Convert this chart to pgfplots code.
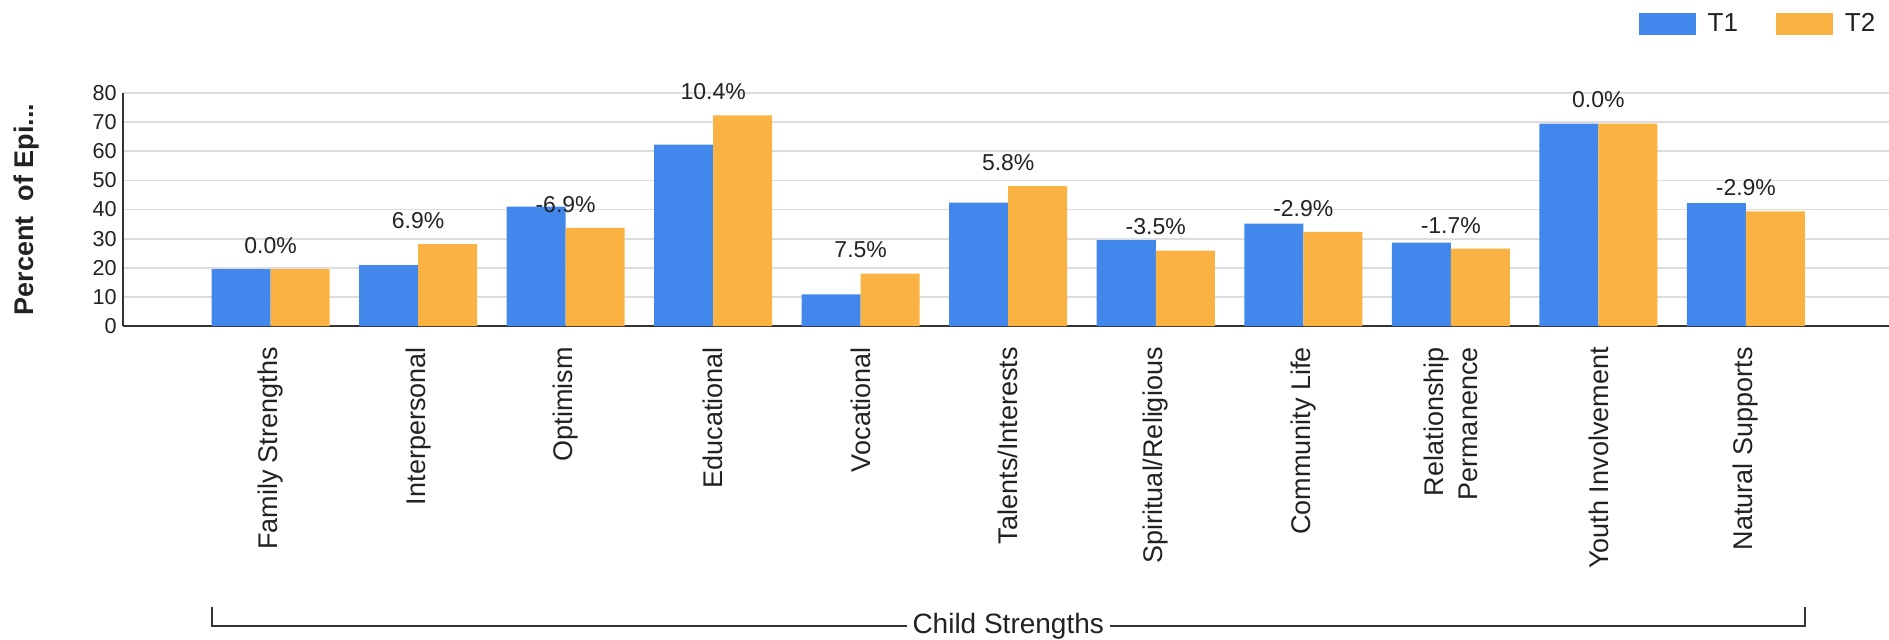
\documentclass[border=0pt]{standalone}
\usepackage{fontspec}
\setmainfont{Liberation Sans}
\usepackage{pgfplots}
\pgfplotsset{compat=1.18}
\usepackage{pgfplotstable}

\definecolor{tone}{RGB}{66,136,236}
\definecolor{ttwo}{RGB}{250,178,66}
\definecolor{ink}{RGB}{34,34,34}
\definecolor{gridc}{RGB}{221,221,221}
\definecolor{axisc}{RGB}{51,51,51}

% Percent of episodes with each strength, at T1 and T2; diff is the change label
\pgfplotstableread{
x  t1    t2    diff
0  19.5  19.5  0.0
1  20.9  28.1  6.9
2  41.0  33.7  -6.9
3  62.3  72.3  10.4
4  10.9  18.0  7.5
5  42.4  48.0  5.8
6  29.5  25.9  -3.5
7  35.2  32.3  -2.9
8  28.6  26.6  -1.7
9  69.5  69.5  0.0
10 42.2  39.4  -2.9
}\strengths

\begin{document}
\begin{tikzpicture}
\useasboundingbox (0,0) rectangle (944.5pt,-319.5pt);
\begin{axis}[
  at={(61.5pt,-163pt)}, anchor=south west,
  scale only axis, width=883pt, height=116.5pt,
  xmin=-1, xmax=10.97, ymin=0, ymax=80,
  axis x line=bottom, axis y line=left,
  axis line style={-, axisc, line width=1pt},
  ytick={0,10,...,80},
  ymajorgrids, grid style={gridc, line width=0.9pt},
  major tick length=0pt,
  xtick={0,...,10},
  xticklabels={Family Strengths, Interpersonal, Optimism, Educational, Vocational,
    Talents/Interests, Spiritual/Religious, Community Life, {Relationship\\Permanence},
    Youth Involvement, Natural Supports},
  xticklabel style={rotate=90, anchor=east, inner sep=0pt, align=right,
    font=\fontsize{13.5}{17}\selectfont, text=ink},
  xticklabel shift=10.5pt,
  yticklabel style={font=\fontsize{10.8}{12}\selectfont, text=ink, inner sep=0pt},
  yticklabel shift=3pt,
  /pgf/number format/assume math mode=true,
  ylabel={\bfseries Percent~~of Epi...},
  ylabel style={at={(axis description cs:-0.0549,0.5)}, anchor=center,
    font=\fontsize{13.5}{16}\selectfont, text=ink},
  clip=false,
  legend columns=2,
  legend image code/.code={\fill[#1] (0pt,-5.5pt) rectangle (28.5pt,5.5pt);},
  legend style={at={(0.858,1.296)}, anchor=west, draw=none, fill=none,
    inner sep=0pt, font=\fontsize{13}{15}\selectfont, text=ink,
    /tikz/every odd column/.append style={column sep=4pt},
    /tikz/every even column/.append style={column sep=17pt}},
]
\addplot[ybar, bar width=0.4, bar shift=-0.2, fill=tone, draw=none]
  table[x=x, y=t1]{\strengths};
\addplot[ybar, bar width=0.4, bar shift=0.2, fill=ttwo, draw=none,
  point meta=explicit symbolic,
  nodes near coords={\pgfplotspointmeta\%},
  nodes near coords style={anchor=south, inner sep=0pt, yshift=7.5pt,
    font=\fontsize{11.5}{13}\selectfont, text=ink}]
  table[x=x, y=t2, meta=diff]{\strengths};
\legend{T1, T2}

% group bracket under the category labels
\draw[axisc, line width=1pt]
  ([yshift=-140.5pt]axis cs:-0.4,0) -- ([yshift=-150pt]axis cs:-0.4,0)
  -- ([yshift=-150pt]axis cs:10.4,0) -- ([yshift=-140.5pt]axis cs:10.4,0);
\node[fill=white, inner xsep=3pt, inner ysep=1pt, font=\fontsize{14}{16}\selectfont, text=ink]
  at ([yshift=-150pt]axis cs:5,0) {Child Strengths};
\end{axis}
\end{tikzpicture}
\end{document}
